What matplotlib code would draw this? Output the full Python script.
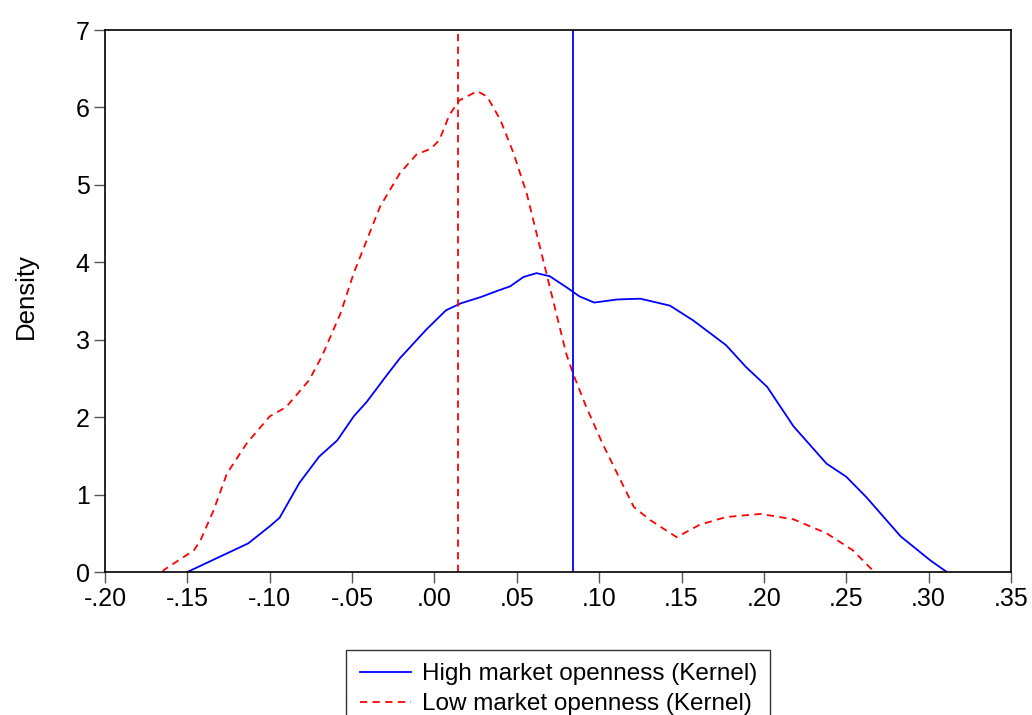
import matplotlib
matplotlib.use('Agg')
import matplotlib.pyplot as plt
from matplotlib.ticker import FuncFormatter, MultipleLocator

plt.rcParams['font.family'] = ['Liberation Sans', 'DejaVu Sans']

# kernel density, high market openness
high_x = [-0.150, -0.148, -0.132, -0.113, -0.100, -0.094, -0.082, -0.070, -0.059,
          -0.049, -0.041, -0.029, -0.021, -0.005, 0.007, 0.016, 0.028, 0.038,
          0.046, 0.054, 0.062, 0.070, 0.080, 0.088, 0.097, 0.111, 0.125, 0.143,
          0.157, 0.177, 0.189, 0.202, 0.218, 0.238, 0.250, 0.262, 0.283, 0.301,
          0.311]
high_y = [0.00, 0.02, 0.18, 0.37, 0.59, 0.70, 1.15, 1.49, 1.70,
          2.01, 2.20, 2.54, 2.76, 3.13, 3.38, 3.47, 3.55, 3.63,
          3.69, 3.81, 3.86, 3.82, 3.68, 3.56, 3.48, 3.52, 3.53, 3.44,
          3.25, 2.93, 2.65, 2.39, 1.88, 1.40, 1.23, 0.97, 0.46, 0.15,
          0.00]

# kernel density, low market openness
low_x = [-0.165, -0.164, -0.146, -0.142, -0.134, -0.126, -0.114, -0.100, -0.090,
         -0.076, -0.068, -0.057, -0.049, -0.041, -0.033, -0.021, -0.011, -0.002,
         0.003, 0.009, 0.015, 0.026, 0.032, 0.040, 0.048, 0.056, 0.064, 0.072,
         0.080, 0.084, 0.092, 0.102, 0.111, 0.121, 0.131, 0.147, 0.161, 0.177,
         0.198, 0.218, 0.238, 0.254, 0.267]
low_y = [0.00, 0.03, 0.28, 0.41, 0.80, 1.27, 1.66, 2.01, 2.13,
         2.48, 2.80, 3.34, 3.86, 4.29, 4.72, 5.15, 5.39, 5.47,
         5.58, 5.90, 6.09, 6.21, 6.14, 5.84, 5.41, 4.89, 4.20, 3.51,
         2.82, 2.57, 2.14, 1.66, 1.27, 0.84, 0.67, 0.45, 0.61, 0.71,
         0.75, 0.68, 0.50, 0.28, 0.00]

high_mean = 0.084
low_mean = 0.014

labels = ['High market openness (Kernel)', 'Low market openness (Kernel)']

fig = plt.figure(figsize=(10.32, 7.15), dpi=100)
ax = fig.add_axes([0.1017, 0.2, 0.878, 0.758])

ax.plot(high_x, high_y, color='blue', lw=1.3, label=labels[0], solid_joinstyle='round')
ax.plot(low_x, low_y, color='red', lw=1.3, ls='--', dashes=(4, 3), label=labels[1])
ax.axvline(high_mean, color='blue', lw=1.3)
ax.axvline(low_mean, color='red', lw=1.3, ls='--', dashes=(4, 3))

ax.set_xlim(-0.20, 0.35)
ax.set_ylim(0, 7)
ax.xaxis.set_major_locator(MultipleLocator(0.05))
ax.yaxis.set_major_locator(MultipleLocator(1))

def fmt(v, pos):
    s = f"{v:.2f}"
    if s == "-0.00":
        s = "0.00"
    return s.replace("0.", ".", 1) if s.lstrip('-').startswith("0.") else s

ax.xaxis.set_major_formatter(FuncFormatter(fmt))
ax.tick_params(axis='both', direction='out', length=8, width=1, color='#555555',
               labelsize=18, pad=3)
for sp in ax.spines.values():
    sp.set_linewidth(1.2)
ax.set_ylabel('Density', fontsize=18.5)
ax.yaxis.set_label_coords(-0.074, 0.51)

leg = fig.legend(loc='upper center', bbox_to_anchor=(0.541, 0.091), fontsize=17.5,
                 frameon=True, fancybox=False, edgecolor='black', handlelength=2.1,
                 borderpad=0.55, borderaxespad=0, labelspacing=0.33,
                 handletextpad=0.45)
leg.get_frame().set_linewidth(1.0)

fig.savefig('out.png', dpi=100)
